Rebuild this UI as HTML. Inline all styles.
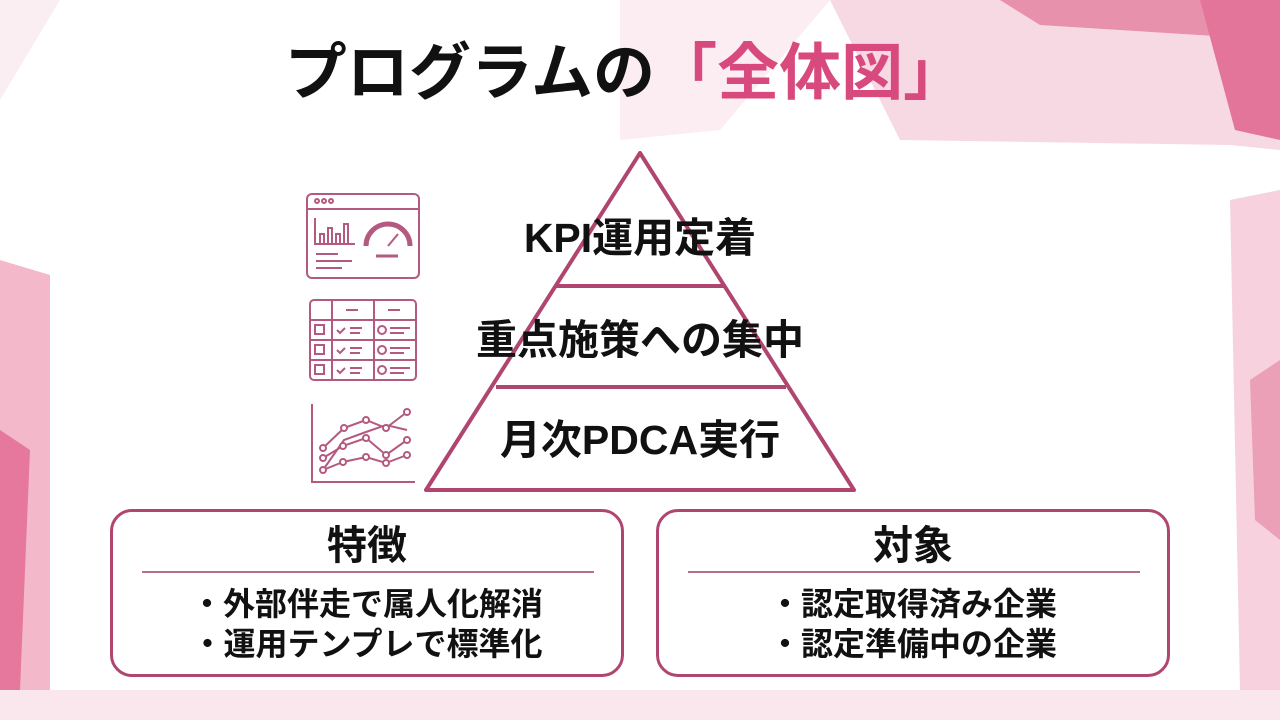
<!DOCTYPE html>
<html><head><meta charset="utf-8"><style>
body{margin:0;width:1280px;height:720px;overflow:hidden;background:#fff;font-family:"Liberation Sans","Noto Sans CJK JP",sans-serif;position:relative}
.t{position:absolute;font-weight:bold;color:#111;white-space:nowrap;text-align:center}
.box{position:absolute;border:3px solid #b04570;border-radius:22px;background:#fff}
</style></head><body>
<svg width="1280" height="720" style="position:absolute;left:0;top:0">
<polygon points="830,0 1280,0 1280,150 1230,145 900,140" fill="#f7d9e3"/>
<polygon points="1000,0 1280,0 1280,40 1040,25" fill="#e891ad"/>
<polygon points="1200,0 1280,0 1280,140 1235,130" fill="#e27599"/>
<polygon points="620,0 830,0 720,130 620,140" fill="#fbedf2"/>
<polygon points="0,260 50,275 50,690 0,690" fill="#f3b9cb"/>
<polygon points="0,430 30,450 20,690 0,690" fill="#e5789c"/>
<polygon points="1230,200 1280,190 1280,720 1240,690" fill="#f7d2de"/>
<polygon points="1250,380 1280,360 1280,540 1255,520" fill="#eba0b8"/>
<polygon points="0,690 1280,690 1280,720 0,720" fill="#fae6ed"/>
<polygon points="0,0 60,0 0,100" fill="#fbeef2"/>
</svg>
<div class="t" style="left:0;width:1250px;top:36px;font-size:62px;line-height:76px">プログラムの<span style="color:#d84a7d">「全体図」</span></div>
<svg width="1280" height="720" style="position:absolute;left:0;top:0">
<g fill="none" stroke="#b04570" stroke-width="4" stroke-linejoin="round">
<polygon points="640,153 426,490 854,490"/>
<line x1="556" y1="286" x2="724" y2="286"/>
<line x1="496" y1="387" x2="786" y2="387"/>
</g>
<g fill="none" stroke="#b45a80" stroke-width="2">
<rect x="307" y="194" width="112" height="84" rx="5"/>
<line x1="307" y1="209" x2="419" y2="209"/>
<circle cx="317" cy="201" r="2"/><circle cx="324" cy="201" r="2"/><circle cx="331" cy="201" r="2"/>
<polyline points="315,218 315,244 355,244"/>
<path d="M320,244v-10h4v10M328,244v-16h4v16M336,244v-10h4v10M344,244v-20h4v20"/>
<path d="M366,246a22,22 0 0 1 44,0" stroke-width="5"/>
<line x1="388" y1="246" x2="398" y2="234"/>
<line x1="376" y1="256" x2="398" y2="256" stroke-width="3"/>
<path d="M316,254h22M316,261h36M316,268h26"/>
<rect x="310" y="300" width="106" height="80" rx="4"/>
<path d="M310,320h106M310,340h106M310,360h106M332,300v80M374,300v80"/>
<path d="M346,310h12M388,310h12"/>
<rect x="315" y="325" width="9" height="9"/><rect x="315" y="345" width="9" height="9"/><rect x="315" y="365" width="9" height="9"/>
<path d="M337,330l3,3 5,-5M337,350l3,3 5,-5M337,370l3,3 5,-5M350,328h12M350,333h10M350,348h12M350,353h10M350,368h12M350,373h10"/>
<circle cx="382" cy="330" r="4"/><circle cx="382" cy="350" r="4"/><circle cx="382" cy="370" r="4"/>
<path d="M390,328h20M390,333h14M390,348h20M390,353h14M390,368h20M390,373h14"/>
<polyline points="312,404 312,482 415,482"/>
<g fill="#fff">
<polyline points="323,448 344,428 366,420 386,428 407,412"/>
<polyline points="323,458 343,446 366,438 386,455 407,440"/>
<polyline points="323,470 343,462 366,457 386,463 407,455"/>
<polyline points="323,470 344,440 366,432 386,425 407,430" fill="none"/>
<circle cx="323" cy="448" r="3"/><circle cx="344" cy="428" r="3"/><circle cx="366" cy="420" r="3"/><circle cx="386" cy="428" r="3"/><circle cx="407" cy="412" r="3"/>
<circle cx="323" cy="458" r="3"/><circle cx="343" cy="446" r="3"/><circle cx="366" cy="438" r="3"/><circle cx="386" cy="455" r="3"/><circle cx="407" cy="440" r="3"/>
<circle cx="323" cy="470" r="3"/><circle cx="343" cy="462" r="3"/><circle cx="366" cy="457" r="3"/><circle cx="386" cy="463" r="3"/><circle cx="407" cy="455" r="3"/>
</g>
</g>
</svg>
<div class="t" style="left:440px;width:400px;top:212px;font-size:41px;line-height:52px">KPI運用定着</div>
<div class="t" style="left:440px;width:400px;top:314px;font-size:41px;line-height:52px">重点施策への集中</div>
<div class="t" style="left:440px;width:400px;top:414px;font-size:41px;line-height:52px">月次PDCA実行</div>
<div class="box" style="left:110px;top:509px;width:508px;height:162px"></div>
<div class="box" style="left:656px;top:509px;width:508px;height:162px"></div>
<div style="position:absolute;left:142px;top:571px;width:452px;height:2px;background:#b46f8c"></div>
<div style="position:absolute;left:688px;top:571px;width:452px;height:2px;background:#b46f8c"></div>
<div class="t" style="left:110px;width:514px;top:522px;font-size:40px;line-height:48px">特徴</div>
<div class="t" style="left:656px;width:514px;top:522px;font-size:40px;line-height:48px">対象</div>
<div class="t" style="left:110px;width:514px;top:584px;font-size:32px;line-height:40px">・外部伴走で属人化解消<br>・運用テンプレで標準化</div>
<div class="t" style="left:656px;width:514px;top:584px;font-size:32px;line-height:40px">・認定取得済み企業<br>・認定準備中の企業</div>
</body></html>
